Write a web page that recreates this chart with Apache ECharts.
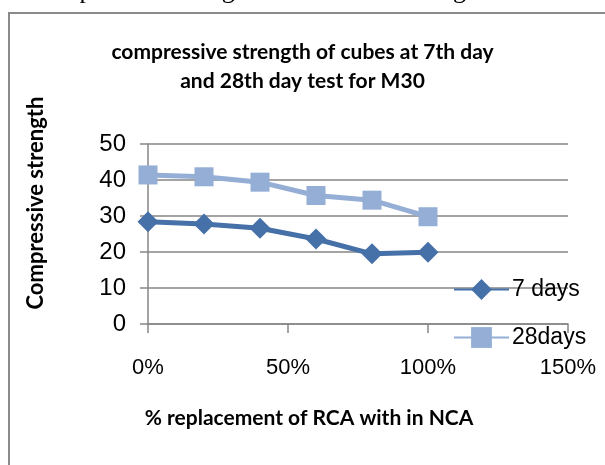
<!DOCTYPE html>
<html>
<head>
<meta charset="utf-8">
<script src="https://cdn.jsdelivr.net/npm/echarts@6/dist/echarts.min.js"></script>
<style>
  html, body { margin: 0; padding: 0; background: #fff; }
  #chart { width: 605px; height: 465px; }
</style>
</head>
<body>
<div id="chart"></div>
<script>
// % replacement of RCA
const replacement = [0, 20, 40, 60, 80, 100];
const days7 = [28.4, 27.8, 26.6, 23.6, 19.5, 19.9];
const days28 = [41.4, 40.9, 39.4, 35.7, 34.4, 29.8];
const seriesNames = ['7 days', '28days'];
const xTicks = [0, 50, 100, 150];

const boldFont = 'Lato, "Liberation Sans", sans-serif';
const tickFont = '"Liberation Sans", sans-serif';
const axisGray = '#868686';

const chart = echarts.init(document.getElementById('chart'));

const toPairs = (vals) => vals.map((v, i) => [replacement[i], v]);

const option = {
  animation: false,
  title: {
    text: 'compressive strength of cubes at 7th day\nand 28th day test for M30',
    left: 'center',
    top: 33,
    textStyle: {
      fontFamily: boldFont,
      fontWeight: 'bold',
      fontSize: 21,
      lineHeight: 29,
      color: '#000'
    }
  },
  grid: { left: 148, right: 37, top: 144, bottom: 141 },
  legend: {
    orient: 'vertical',
    left: 448,
    top: 273,
    itemWidth: 55,
    itemHeight: 26,
    itemGap: 25,
    textStyle: { fontFamily: tickFont, fontSize: 23, color: '#000', padding: [0, 0, 0, -2] },
    data: seriesNames
  },
  xAxis: {
    type: 'value',
    min: xTicks[0],
    max: xTicks[xTicks.length - 1],
    interval: 50,
    axisLine: { show: true, onZero: false, lineStyle: { color: axisGray, width: 1.5 } },
    axisTick: { show: true, length: 9, lineStyle: { color: axisGray, width: 1.5 } },
    splitLine: { show: false },
    axisLabel: {
      formatter: '{value}%',
      fontFamily: tickFont,
      fontSize: 22,
      color: '#000',
      margin: 33
    }
  },
  yAxis: {
    type: 'value',
    min: 0,
    max: 50,
    interval: 10,
    axisLine: { show: true, lineStyle: { color: axisGray, width: 1.5 } },
    axisTick: { show: true, length: 8, lineStyle: { color: axisGray, width: 1.5 } },
    splitLine: { show: true, lineStyle: { color: axisGray, width: 1.5 } },
    axisLabel: {
      fontFamily: tickFont,
      fontSize: 24,
      color: '#000',
      margin: 22
    }
  },
  series: [
    {
      name: seriesNames[0],
      type: 'line',
      data: toPairs(days7),
      symbol: 'diamond',
      symbolSize: 21,
      lineStyle: { width: 5, color: '#4570A8' },
      itemStyle: { color: '#4570A8' },
      z: 3
    },
    {
      name: seriesNames[1],
      type: 'line',
      data: toPairs(days28),
      symbol: 'rect',
      symbolSize: 19,
      lineStyle: { width: 5, color: '#94AED6' },
      itemStyle: { color: '#94AED6' },
      z: 2
    }
  ],
  graphic: [
    {
      type: 'rect',
      shape: { x: 9, y: 13, width: 620, height: 480 },
      style: { fill: 'none', stroke: '#8a8a8a', lineWidth: 2 },
      silent: true
    },
    {
      type: 'text',
      left: -2,
      top: -22,
      style: {
        text: 'he Compressive strength variation for M30 grade of concrete',
        fontFamily: '"Liberation Serif", serif',
        fontSize: 26,
        fill: '#000'
      }
    },
    {
      type: 'text',
      rotation: Math.PI / 2,
      x: 36,
      y: 203,
      style: {
        text: 'Compressive strength',
        fontFamily: boldFont,
        fontWeight: 'bold',
        fontSize: 22,
        fill: '#000',
        align: 'center',
        verticalAlign: 'middle'
      }
    },
    {
      type: 'text',
      x: 309,
      y: 418,
      style: {
        text: '% replacement of RCA with in NCA',
        fontFamily: boldFont,
        fontWeight: 'bold',
        fontSize: 21,
        fill: '#000',
        align: 'center',
        verticalAlign: 'middle'
      }
    }
  ]
};

chart.setOption(option);
</script>
</body>
</html>
